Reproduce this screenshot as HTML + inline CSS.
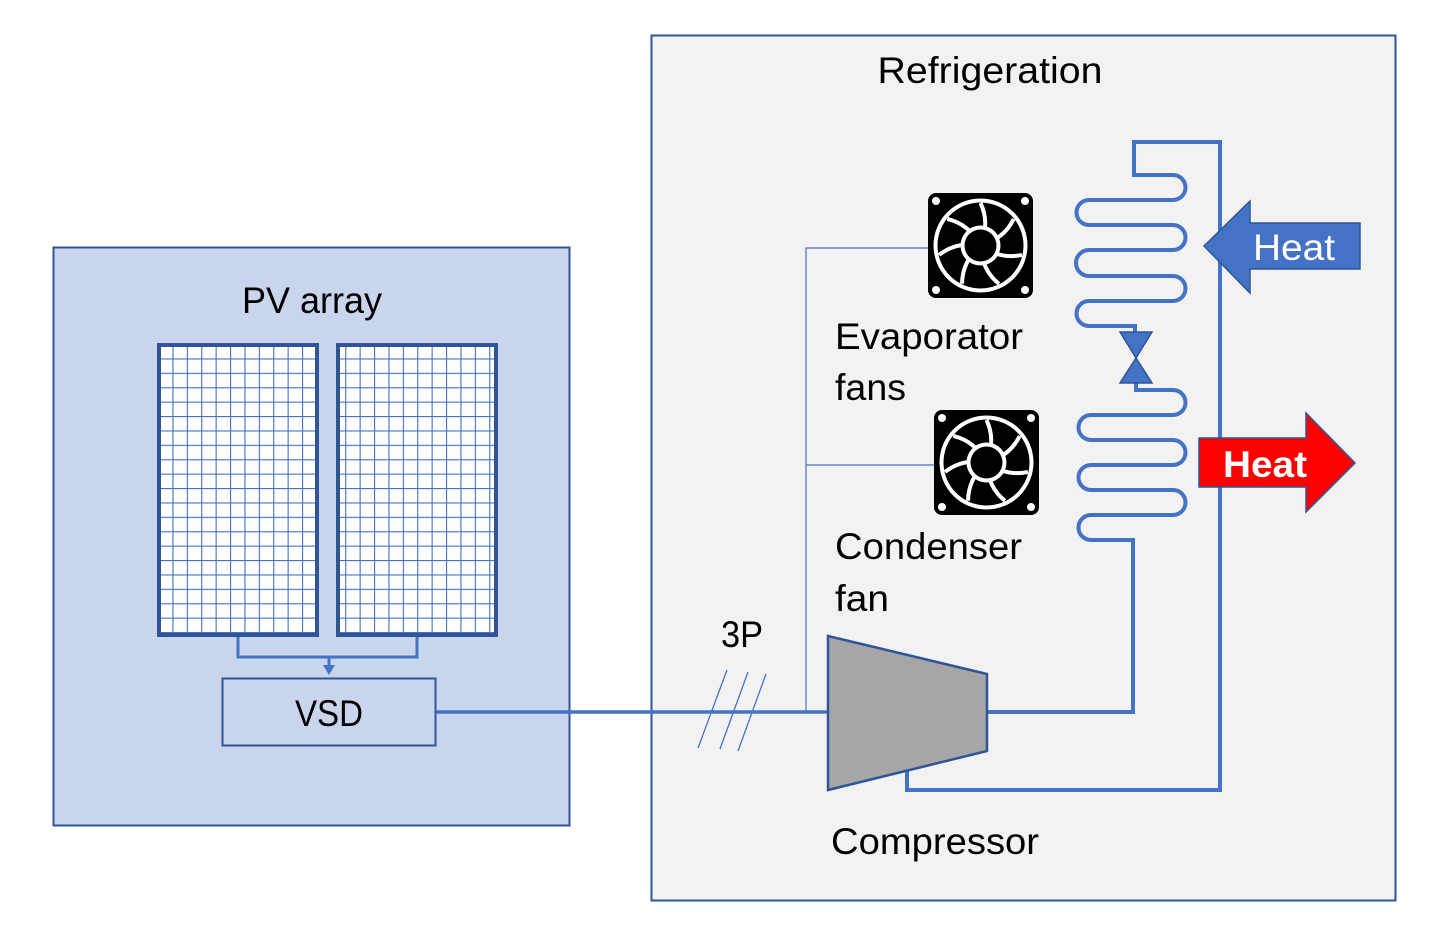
<!DOCTYPE html>
<html><head><meta charset="utf-8"><style>
html,body{margin:0;padding:0;background:#fff;}
svg{display:block;}
text{font-family:"Liberation Sans",sans-serif;}
</style></head><body>
<svg width="1438" height="927" viewBox="0 0 1438 927" xmlns="http://www.w3.org/2000/svg">
<defs>
<pattern id="grid" x="158" y="344" width="14.4" height="14.4" patternUnits="userSpaceOnUse">
<rect width="14.4" height="14.4" fill="#fff"/>
<path d="M0,0 H14.4 M0,0 V14.4" stroke="#4472c4" stroke-width="2.2" fill="none"/>
</pattern>
<g id="fan">
<rect x="0" y="0" width="105" height="105" rx="8" fill="#000"/>
<circle cx="52.5" cy="52.5" r="47" fill="#fff"/>
<circle cx="52.5" cy="52.5" r="43" fill="#000"/>
<g stroke="#fff" stroke-width="4" fill="none">
<path d="M52.5,52.5 Q62,30 52.5,10"/>
<path d="M52.5,52.5 Q62,30 52.5,10" transform="rotate(51.4 52.5 52.5)"/>
<path d="M52.5,52.5 Q62,30 52.5,10" transform="rotate(102.8 52.5 52.5)"/>
<path d="M52.5,52.5 Q62,30 52.5,10" transform="rotate(154.3 52.5 52.5)"/>
<path d="M52.5,52.5 Q62,30 52.5,10" transform="rotate(205.7 52.5 52.5)"/>
<path d="M52.5,52.5 Q62,30 52.5,10" transform="rotate(257.1 52.5 52.5)"/>
<path d="M52.5,52.5 Q62,30 52.5,10" transform="rotate(308.6 52.5 52.5)"/>
</g>
<circle cx="52.5" cy="52.5" r="20" fill="#fff"/>
<circle cx="52.5" cy="52.5" r="16" fill="#000"/>
<circle cx="8" cy="8" r="4" fill="#fff"/>
<circle cx="97" cy="8" r="4" fill="#fff"/>
<circle cx="8" cy="97" r="4" fill="#fff"/>
<circle cx="97" cy="97" r="4" fill="#fff"/>
</g>
</defs>

<rect x="53.5" y="247.5" width="516" height="578" fill="#c9d5ec" stroke="#2f5597" stroke-width="2"/>
<text x="312" y="313" font-size="37" text-anchor="middle" textLength="140" lengthAdjust="spacingAndGlyphs" fill="#000">PV array</text>
<rect x="159" y="345" width="158" height="290" fill="url(#grid)" stroke="#2f5597" stroke-width="4"/>
<rect x="338" y="345" width="158" height="290" fill="url(#grid)" stroke="#2f5597" stroke-width="4"/>
<path d="M238,637 V657 H417 V637 M329,657 V668" stroke="#4472c4" stroke-width="3" fill="none"/>
<path d="M323,665 L335,665 L329,675 Z" fill="#4472c4"/>
<rect x="222.5" y="678.5" width="213" height="67" fill="#c9d5ec" stroke="#2f5597" stroke-width="2"/>
<text x="329" y="726" font-size="37" text-anchor="middle" textLength="68" lengthAdjust="spacingAndGlyphs" fill="#000">VSD</text>

<rect x="651.5" y="35.5" width="744" height="865" fill="#f2f2f2" stroke="#2f5597" stroke-width="2"/>
<text x="990" y="83" font-size="37" text-anchor="middle" textLength="225" lengthAdjust="spacingAndGlyphs" fill="#000">Refrigeration</text>

<path d="M436,712 H828" stroke="#4472c4" stroke-width="3.5" fill="none"/>
<path d="M698,748 L727,670 M720,749 L748,672 M738,751 L766,674" stroke="#4472c4" stroke-width="1.3" fill="none"/>
<text x="742" y="647" font-size="37" text-anchor="middle" textLength="42" lengthAdjust="spacingAndGlyphs" fill="#000">3P</text>

<path d="M806,712 V248 H930 M806,465 H936" stroke="#4472c4" stroke-width="1.2" fill="none"/>

<use href="#fan" x="928" y="193"/>
<use href="#fan" x="934" y="410"/>

<text x="835" y="349" font-size="37" textLength="188" lengthAdjust="spacingAndGlyphs" fill="#000">Evaporator</text>
<text x="835" y="400" font-size="37" textLength="71" lengthAdjust="spacingAndGlyphs" fill="#000">fans</text>
<text x="835" y="559" font-size="37" textLength="187" lengthAdjust="spacingAndGlyphs" fill="#000">Condenser</text>
<text x="835" y="611" font-size="37" textLength="54" lengthAdjust="spacingAndGlyphs" fill="#000">fan</text>
<text x="831" y="854" font-size="37" textLength="208" lengthAdjust="spacingAndGlyphs" fill="#000">Compressor</text>

<g stroke="#4472c4" stroke-width="4" fill="none">
<path d="M907,770 V790 H1220 V142 H1134 V175 H1173 A12.5,12.5 0 0 1 1173,200 H1089 A12.5,12.5 0 0 0 1089,225 H1173 A12.5,12.5 0 0 1 1173,250 H1089 A13,13 0 0 0 1089,276 H1173 A12.5,12.5 0 0 1 1173,301 H1089 A12.5,12.5 0 0 0 1089,326 H1135 V334"/>
<path d="M1136,381 V390 H1173 A12.5,12.5 0 0 1 1173,415 H1091 A12.5,12.5 0 0 0 1091,440 H1173 A12.5,12.5 0 0 1 1173,465 H1091 A12.5,12.5 0 0 0 1091,490 H1173 A12.5,12.5 0 0 1 1173,515 H1091 A12.5,12.5 0 0 0 1091,540 H1133 V712 H987"/>
</g>
<path d="M1120,332 L1152,332 L1136,358 Z M1136,358 L1152,383 L1120,383 Z" fill="#4472c4" stroke="#2f5597" stroke-width="1.5"/>

<path d="M828,636 L987,674 L987,751 L828,790 Z" fill="#a6a6a6" stroke="#2f5597" stroke-width="2.5"/>

<path d="M1204,246 L1250,201 L1250,223 L1360,223 L1360,269 L1250,269 L1250,293 Z" fill="#4472c4" stroke="#2f5597" stroke-width="1.5"/>
<text x="1294" y="260" font-size="37" text-anchor="middle" textLength="82" lengthAdjust="spacingAndGlyphs" fill="#fff">Heat</text>
<path d="M1199,438 L1306,438 L1306,413 L1355,463 L1306,512 L1306,487 L1199,487 Z" fill="#ff0000" stroke="#2f5597" stroke-width="1.5"/>
<text x="1265" y="477" font-size="37" font-weight="bold" text-anchor="middle" textLength="84" lengthAdjust="spacingAndGlyphs" fill="#fff">Heat</text>
</svg>
</body></html>
